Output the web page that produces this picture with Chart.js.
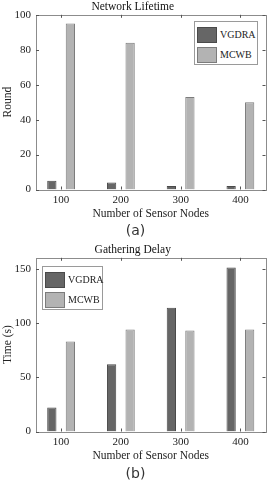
<!DOCTYPE html>
<html><head><meta charset="utf-8">
<script src="https://cdn.jsdelivr.net/npm/chart.js@4/dist/chart.umd.min.js"></script>
<style>
html,body{margin:0;padding:0;background:#fff;width:271px;height:481px;overflow:hidden;position:relative}
canvas{position:absolute;left:0}
.cap{position:absolute;left:0;width:271px;text-align:center;font-family:"DejaVu Sans",sans-serif;font-size:14px;line-height:18px;color:#333}
.leg{position:absolute;border:1px solid #9a9a9a;background:#fff;box-sizing:border-box;font-family:"Liberation Serif",serif;font-size:10px;color:#222}
.sw{position:absolute;box-sizing:border-box;width:20px;height:16px}
.lt{position:absolute;line-height:12px}
</style></head>
<body>
<canvas id="ca" width="271" height="222" style="top:0"></canvas>
<div class="cap" style="top:221px">(a)</div>
<canvas id="cb" width="271" height="221" style="top:243px"></canvas>
<div class="cap" style="top:464px">(b)</div>
<div class="leg" id="lega" style="left:194px;top:21px;width:64px;height:44px"></div>
<div class="leg" id="legb" style="left:42px;top:266px;width:61px;height:44px"></div>
<script>
const categories = [100, 200, 300, 400];
const seriesNames = ['VGDRA', 'MCWB'];
const lifetimeVGDRA = [5, 4, 2, 2];
const lifetimeMCWB = [95, 84, 53, 50];
const delayVGDRA = [22, 62, 114, 151];
const delayMCWB = [83, 94, 93, 94];
const lifetimeTicks = [0, 20, 40, 60, 80, 100];
const delayTicks = [0, 50, 100, 150];

const fills = ['#666666', '#b3b3b3'];
const edges = ['#4a4a4a', '#7c7c7c'];
const SERIF = '"Liberation Serif", "Times New Roman", serif';

const boxPlugin = {
  id: 'box',
  afterDraw(chart) {
    const {ctx, chartArea: a, scales: {x, y}} = chart;
    ctx.save();
    ctx.strokeStyle = '#8c8c8c';
    ctx.lineWidth = 1;
    ctx.strokeRect(Math.round(a.left) + 0.5, Math.round(a.top) + 0.5, Math.round(a.right - a.left), Math.round(a.bottom - a.top));
    ctx.strokeStyle = '#555';
    ctx.beginPath();
    x.ticks.forEach(t => {
      const px = Math.round(x.getPixelForValue(t.value)) + 0.5;
      ctx.moveTo(px, a.bottom); ctx.lineTo(px, a.bottom - 3);
      ctx.moveTo(px, a.top); ctx.lineTo(px, a.top + 3);
    });
    y.ticks.forEach(t => {
      const py = Math.round(y.getPixelForValue(t.value)) + 0.5;
      ctx.moveTo(a.left, py); ctx.lineTo(a.left + 3, py);
      ctx.moveTo(a.right, py); ctx.lineTo(a.right - 3, py);
    });
    ctx.stroke();
    ctx.restore();
  }
};

function makeChart(id, title, yTitle, vals, yMax, yTicks) {
  return new Chart(document.getElementById(id), {
    type: 'bar',
    data: {
      datasets: vals.map((v, i) => ({
        label: seriesNames[i],
        data: categories.map((c, j) => ({x: c, y: v[j]})),
        backgroundColor: fills[i],
        borderColor: edges[i],
        borderWidth: 1,
        categoryPercentage: 0.62,
        barPercentage: 0.5
      }))
    },
    options: {
      responsive: false,
      animation: false,
      layout: {padding: {left: 0, right: 5.5, top: 0, bottom: 0}},
      plugins: {
        legend: {display: false},
        tooltip: {enabled: false},
        title: {display: true, text: title, color: '#111',
          font: {family: SERIF, size: 11.5, weight: 'normal'}, padding: {top: 0, bottom: 1}}
      },
      scales: {
        x: {
          type: 'linear', min: 58, max: 442, offset: false,
          afterBuildTicks: s => { s.ticks = categories.map(v => ({value: v})); },
          afterFit: s => { s.height = 32.5; },
          grid: {display: false, drawTicks: false, offset: false},
          border: {display: false},
          ticks: {color: '#222', font: {family: SERIF, size: 11}, padding: 4.5},
          title: {display: true, text: 'Number of Sensor Nodes', color: '#222',
            font: {family: SERIF, size: 11.5}, padding: {top: 0, bottom: 1}}
        },
        y: {
          min: 0, max: yMax,
          afterBuildTicks: s => { s.ticks = yTicks.map(v => ({value: v})); },
          afterFit: s => { s.width = 36; },
          grid: {display: false, drawTicks: false},
          border: {display: false},
          ticks: {color: '#222', font: {family: SERIF, size: 11}, padding: 5},
          title: {display: true, text: yTitle, color: '#222',
            font: {family: SERIF, size: 11.5}, padding: {top: 1, bottom: 0}}
        }
      }
    },
    plugins: [boxPlugin]
  });
}

const chA = makeChart('ca', 'Network Lifetime', 'Round', [lifetimeVGDRA, lifetimeMCWB], 100, lifetimeTicks);
const chB = makeChart('cb', 'Gathering Delay', 'Time (s)', [delayVGDRA, delayMCWB], 160, delayTicks);

function buildLegend(elId, chart) {
  const el = document.getElementById(elId);
  chart.data.datasets.forEach((ds, i) => {
    const sw = document.createElement('div');
    sw.className = 'sw';
    sw.style.left = '2px';
    sw.style.top = (5 + i * 20) + 'px';
    sw.style.background = ds.backgroundColor;
    sw.style.border = '1px solid ' + ds.borderColor;
    el.appendChild(sw);
    const t = document.createElement('div');
    t.className = 'lt';
    t.style.left = '25px';
    t.style.top = (7 + i * 20) + 'px';
    t.textContent = ds.label;
    el.appendChild(t);
  });
}
buildLegend('lega', chA);
buildLegend('legb', chB);
</script>
</body></html>
